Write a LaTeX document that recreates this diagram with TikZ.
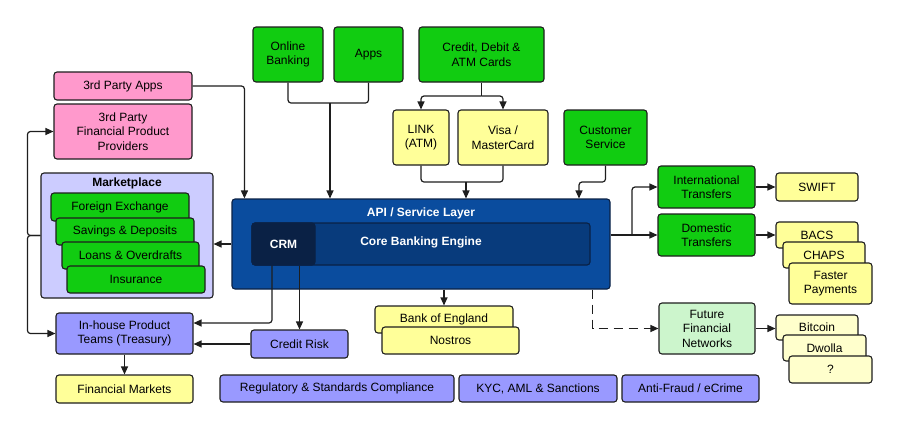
\documentclass[tikz,border=0pt]{standalone}
\usepackage{fontspec}
\setmainfont{Liberation Sans}
\usepackage{xcolor}
\usetikzlibrary{arrows.meta}

\definecolor{rosa}{HTML}{FF99CC}
\definecolor{gruen}{HTML}{11CC11}
\definecolor{hellgruen}{HTML}{CCF5CC}
\definecolor{gelb}{HTML}{FFFF99}
\definecolor{hellgelb}{HTML}{FFFFCC}
\definecolor{lila}{HTML}{9999FF}
\definecolor{helllila}{HTML}{CCCCFF}
\definecolor{apiblau}{HTML}{0A4C9E}
\definecolor{kernblau}{HTML}{083B7C}
\definecolor{crmblau}{HTML}{0A2145}
\definecolor{rand}{HTML}{1E1E1E}

\begin{document}
\begin{tikzpicture}[x=1pt,y=-1pt,
		kasten/.style={draw=rand, line width=1.1pt, rounded corners=3pt, inner sep=0pt, align=center, font=\fontsize{12}{14.5}\selectfont},
		linie/.style={draw=rand, line width=1.2pt, rounded corners=3pt},
		pfeil/.style={linie, -{Triangle[length=8pt,width=7pt]}}]

		% Rahmen
		\useasboundingbox[fill=white] (0,0) rectangle (900,440);

		% Kanaele oben
		\node[kasten, fill=gruen, minimum width=70pt, minimum height=55pt] (online) at (288,54.5) {Online\\Banking};
		\node[kasten, fill=gruen, minimum width=69pt, minimum height=55pt] (appsn) at (368.5,54.5) {Apps};
		\node[kasten, fill=gruen, minimum width=125pt, minimum height=55pt] (karten) at (481.5,54.5) {Credit, Debit \&\\ATM Cards};
		\node[kasten, fill=gelb, minimum width=56pt, minimum height=55pt] (link) at (421,137.5) {LINK\\(ATM)};
		\node[kasten, fill=gelb, minimum width=90pt, minimum height=55pt] (visa) at (503,137.5) {Visa /\\MasterCard};
		\node[kasten, fill=gruen, minimum width=83pt, minimum height=55pt] (kunden) at (605.5,137.5) {Customer\\Service};

		% Dritte
		\node[kasten, fill=rosa, minimum width=138pt, minimum height=28pt] (apps3) at (123,86) {3rd Party Apps};
		\node[kasten, fill=rosa, minimum width=138pt, minimum height=55pt] (anbieter3) at (123,131.5) {3rd Party\\Financial Product\\Providers};

		% Marketplace
		\node[kasten, fill=helllila, minimum width=172pt, minimum height=125pt] (markt) at (127,235.5) {};
		\node[font=\fontsize{12}{14.5}\selectfont\bfseries, inner sep=0pt] (markttitel) at (127,183) {Marketplace};
		\node[kasten, fill=gruen, minimum width=138pt, minimum height=28pt] (fx) at (120,207) {Foreign Exchange};
		\node[kasten, fill=gruen, minimum width=138pt, minimum height=27pt] (spar) at (125,231.5) {Savings \& Deposits};
		\node[kasten, fill=gruen, minimum width=137pt, minimum height=27pt] (darlehen) at (130.5,255.5) {Loans \& Overdrafts};
		\node[kasten, fill=gruen, minimum width=138pt, minimum height=27pt] (vers) at (136,279.5) {Insurance};

		% API und Kern
		\node[kasten, draw=crmblau, fill=apiblau, minimum width=378pt, minimum height=90pt] (api) at (421,244) {};
		\node[text=white, font=\fontsize{12}{14.5}\selectfont\bfseries, inner sep=0pt] (apititel) at (421,213) {API / Service Layer};
		\node[kasten, draw=crmblau, fill=kernblau, minimum width=338pt, minimum height=42pt] (kern) at (421,244) {};
		\node[kasten, draw=crmblau, fill=crmblau, minimum width=63pt, minimum height=42pt, text=white, font=\fontsize{12}{14.5}\selectfont\bfseries] (crm) at (283.5,244) {CRM};
		\node[text=white, font=\fontsize{12}{14.5}\selectfont\bfseries, inner sep=0pt] (kerntext) at (421,242) {Core Banking Engine};

		% Unten links
		\node[kasten, fill=lila, minimum width=137pt, minimum height=41pt] (inhouse) at (124.5,333.5) {In-house Product\\Teams (Treasury)};
		\node[kasten, fill=gelb, minimum width=137pt, minimum height=28pt] (finmarkt) at (124.5,389) {Financial Markets};
		\node[kasten, fill=lila, minimum width=97pt, minimum height=28pt] (kreditrisiko) at (299.5,344) {Credit Risk};
		\node[kasten, fill=lila, minimum width=234pt, minimum height=27pt] (regul) at (337,388.5) {Regulatory \& Standards Compliance};
		\node[kasten, fill=lila, minimum width=158pt, minimum height=27pt] (kyc) at (538,388.5) {KYC, AML \& Sanctions};
		\node[kasten, fill=lila, minimum width=137pt, minimum height=27pt] (betrug) at (690.5,388.5) {Anti-Fraud / eCrime};
		\node[kasten, fill=gelb, minimum width=138pt, minimum height=27pt] (boe) at (444,319.5) {Bank of England};
		\node[kasten, fill=gelb, minimum width=137pt, minimum height=27pt] (nostros) at (450.5,340.5) {Nostros};

		% Zahlungsnetze rechts
		\node[kasten, fill=gruen, minimum width=97pt, minimum height=42pt] (intl) at (706.5,187) {International\\Transfers};
		\node[kasten, fill=gruen, minimum width=97pt, minimum height=42pt] (inland) at (706.5,235) {Domestic\\Transfers};
		\node[kasten, fill=gelb, minimum width=82pt, minimum height=28pt] (swift) at (817,187) {SWIFT};
		\node[kasten, fill=gelb, minimum width=82pt, minimum height=26pt] (bacs) at (817,235) {BACS};
		\node[kasten, fill=gelb, minimum width=82pt, minimum height=26pt] (chaps) at (824,255) {CHAPS};
		\node[kasten, fill=gelb, minimum width=83pt, minimum height=41pt] (faster) at (830.5,283.5) {Faster\\Payments};
		\node[kasten, fill=hellgruen, minimum width=96pt, minimum height=51pt] (zukunft) at (707,328.5) {Future\\Financial\\Networks};
		\node[kasten, fill=hellgelb, minimum width=82pt, minimum height=25pt] (bitcoin) at (817,327.5) {Bitcoin};
		\node[kasten, fill=hellgelb, minimum width=83pt, minimum height=26pt] (dwolla) at (824.5,348) {Dwolla};
		\node[kasten, fill=hellgelb, minimum width=83pt, minimum height=27pt] (frage) at (830.5,369.5) {?};

		% Knickpunkte
		\coordinate (kanal) at (330,103);
		\coordinate (kartenknoten) at (481.5,96);
		\coordinate (netz) at (466,182);
		\coordinate (service) at (579,182);
		\coordinate (verteiler) at (632,235);

		% Verbindungen oben
		\draw[linie] (online.south) |- (kanal) -| (appsn.south);
		\draw[pfeil] (kanal) -- (kanal |- api.north);
		\draw[linie] (karten.south) -- (kartenknoten);
		\draw[pfeil] (kartenknoten) -| (link.north);
		\draw[pfeil] (kartenknoten) -| (visa.north);
		\draw[linie] (link.south) |- (netz) -| (visa.south);
		\draw[pfeil] (netz) -- (netz |- api.north);
		\draw[pfeil] (kunden.south) |- (service) -- (service |- api.north);
		\draw[pfeil] (apps3.east) -| ([xshift=13pt]api.north west);

		% Verbindungen links
		\draw[pfeil] (api.west) -- (api.west -| markt.east);
		\draw[pfeil] (markt.west) -- ++(-13,0) |- (anbieter3.west);
		\draw[pfeil] (markt.west) -- ++(-13,0) |- (inhouse.west);
		\draw[pfeil] ([xshift=-11.5pt]crm.south) |- ([yshift=10.5pt]inhouse.east);
		\draw[pfeil] (kreditrisiko.north |- crm.south) -- (kreditrisiko.north);
		\draw[pfeil] (kreditrisiko.west) -- (kreditrisiko.west -| inhouse.east);
		\draw[pfeil] (inhouse.south) -- (finmarkt.north);

		% Verbindungen unten und rechts
		\draw[pfeil] (boe.north |- api.south) -- (boe.north);
		\draw[pfeil, dash pattern=on 9pt off 6pt, rounded corners=0pt] ([xshift=-18pt]api.south east) |- (zukunft.west);
		\draw[pfeil] (api.east |- verteiler) -- (inland.west);
		\draw[pfeil] (verteiler) |- (intl.west);
		\draw[pfeil] (intl.east) -- (swift.west);
		\draw[pfeil] (inland.east) -- (bacs.west);
		\draw[pfeil] (zukunft.east) -- (zukunft.east -| bitcoin.west);
	\end{tikzpicture}
\end{document}
